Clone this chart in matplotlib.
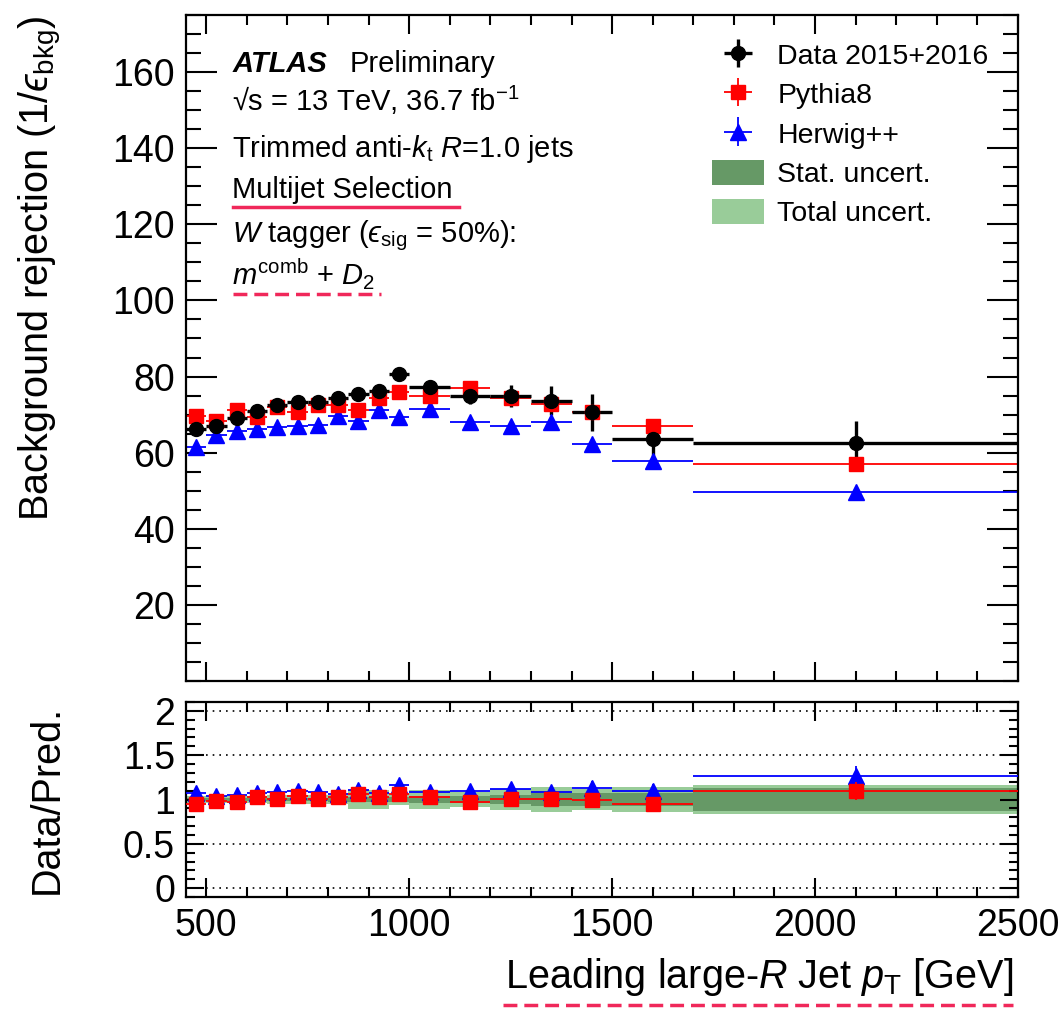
import numpy as np
import matplotlib
matplotlib.use('Agg')
import matplotlib.pyplot as plt
from matplotlib.lines import Line2D
from matplotlib.patches import Patch
from matplotlib.ticker import MultipleLocator, FixedLocator

plt.rcParams['font.family'] = ['Liberation Sans', 'DejaVu Sans']
plt.rcParams['mathtext.fontset'] = 'custom'
plt.rcParams['mathtext.rm'] = 'Liberation Sans'
plt.rcParams['mathtext.it'] = 'Liberation Sans:italic'
plt.rcParams['mathtext.bf'] = 'Liberation Sans:bold'
plt.rcParams['mathtext.fallback'] = 'stixsans'

# bins in leading large-R jet pT [GeV]
bin_lo = [450, 500, 550, 600, 650, 700, 750, 800, 850, 900, 950,
          1000, 1100, 1200, 1300, 1400, 1500, 1700]
bin_hi = [500, 550, 600, 650, 700, 750, 800, 850, 900, 950, 1000,
          1100, 1200, 1300, 1400, 1500, 1700, 2500]

# background rejection 1/eps_bkg
data = [66.3, 67.1, 69.2, 70.9, 72.6, 73.2, 73.2, 74.3, 75.3, 76.1, 80.6,
        77.2, 74.9, 74.8, 73.7, 70.6, 63.5, 62.5]
data_err = [1.0, 1.0, 1.0, 1.0, 1.0, 1.0, 1.0, 1.0, 1.0, 1.2, 1.7,
            1.3, 2.1, 2.9, 3.9, 4.8, 4.5, 5.7]
pythia = [69.7, 68.3, 71.1, 69.3, 72.0, 70.6, 72.4, 72.4, 71.1, 74.4, 75.9,
          74.8, 77.0, 74.4, 72.9, 70.6, 67.0, 57.1]
pythia_err = [0.5, 0.5, 0.5, 0.5, 0.5, 0.5, 0.5, 0.5, 0.5, 0.5, 0.6,
              0.6, 0.7, 0.8, 0.9, 1.0, 1.0, 1.2]
herwig = [61.6, 64.7, 65.8, 66.3, 66.7, 67.0, 67.3, 69.7, 68.3, 71.1, 69.5,
          71.5, 68.0, 66.9, 68.0, 62.3, 57.8, 49.6]
herwig_err = [0.8, 1.0, 0.8, 0.8, 0.8, 0.8, 0.8, 0.8, 0.9, 0.9, 0.9,
              0.9, 1.0, 1.0, 1.1, 1.2, 1.2, 1.3]

# relative uncertainty bands in the ratio panel (half widths)
stat_unc = [0.02, 0.02, 0.02, 0.02, 0.02, 0.02, 0.02, 0.03, 0.03, 0.03, 0.03,
            0.04, 0.04, 0.05, 0.07, 0.07, 0.075, 0.13]
tot_unc = [0.04, 0.04, 0.04, 0.04, 0.05, 0.05, 0.05, 0.05, 0.11, 0.11, 0.06,
           0.11, 0.09, 0.12, 0.14, 0.12, 0.145, 0.16]

lo = np.array(bin_lo, float)
hi = np.array(bin_hi, float)
xc = (lo + hi) / 2
xw = (hi - lo) / 2
d = np.array(data)
de = np.array(data_err)
py = np.array(pythia)
hw = np.array(herwig)

r_py = d / py
r_hw = d / hw
r_py_err = r_py * de / d
r_hw_err = r_hw * de / d

W, H = 1060, 1010
fig = plt.figure(figsize=(W / 100, H / 100), dpi=100)
ax = fig.add_axes([186 / W, 1 - 681 / H, 832 / W, 666 / H])
ax2 = fig.add_axes([186 / W, 1 - 897 / H, 832 / W, 195 / H])

c_stat = '#669966'
c_tot = '#99cc99'

hw_eb = ax.errorbar(xc, hw, xerr=xw, yerr=herwig_err, fmt='^', color='blue',
                    ms=11, elinewidth=1.3, capsize=0, label='Herwig++')
py_eb = ax.errorbar(xc, py, xerr=xw, yerr=pythia_err, fmt='s', color='red',
                    ms=10, elinewidth=1.3, capsize=0, label='Pythia8')
d_eb = ax.errorbar(xc, d, xerr=xw, yerr=de, fmt='o', color='black',
                   ms=10, elinewidth=2.4, capsize=0, label='Data 2015+2016')

ax.set_xlim(450, 2500)
ax.set_ylim(0, 175)
ax.yaxis.set_major_locator(FixedLocator([20, 40, 60, 80, 100, 120, 140, 160]))
ax.yaxis.set_minor_locator(MultipleLocator(5))
ax.xaxis.set_major_locator(MultipleLocator(500))
ax.xaxis.set_minor_locator(MultipleLocator(100))
ax.tick_params(labelbottom=False)
ax.set_ylabel('Background rejection (1/$\u03f5_{\\mathrm{bkg}}$)', fontsize=28.5, loc='top')
ax.yaxis.set_label_coords(-0.147, 1.0)

h_stat = Patch(facecolor=c_stat, edgecolor='none', label='Stat. uncert.')
h_tot = Patch(facecolor=c_tot, edgecolor='none', label='Total uncert.')
ax.legend(handles=[d_eb, py_eb, hw_eb, h_stat, h_tot], loc='upper left',
          bbox_to_anchor=(0.632, 0.96), frameon=False, fontsize=20.5,
          handlelength=1.85, handleheight=1.0, handletextpad=0.45,
          labelspacing=0.38, borderpad=0, borderaxespad=0)

# ratio panel
ax2.bar(lo, 2 * np.array(tot_unc), bottom=1 - np.array(tot_unc), width=hi - lo,
        align='edge', color=c_tot, linewidth=0, zorder=1)
ax2.bar(lo, 2 * np.array(stat_unc), bottom=1 - np.array(stat_unc), width=hi - lo,
        align='edge', color=c_stat, linewidth=0, zorder=1.5)
for yv in [0, 0.5, 1, 1.5, 2]:
    ax2.axhline(yv, color='black', ls=(0, (1, 3)), lw=1.2, zorder=0.5)
ax2.errorbar(xc, r_hw, xerr=xw, yerr=r_hw_err, fmt='^', color='blue',
             ms=11, elinewidth=1.3, capsize=0, zorder=3)
ax2.errorbar(xc, r_py, xerr=xw, yerr=r_py_err, fmt='s', color='red',
             ms=10, elinewidth=1.3, capsize=0, zorder=3.5)
ax2.set_xlim(450, 2500)
ax2.set_ylim(-0.1, 2.1)
ax2.yaxis.set_major_locator(FixedLocator([0, 0.5, 1, 1.5, 2]))
ax2.set_yticklabels(['0', '0.5', '1', '1.5', '2'])
ax2.yaxis.set_minor_locator(MultipleLocator(0.1))
ax2.xaxis.set_major_locator(MultipleLocator(500))
ax2.xaxis.set_minor_locator(MultipleLocator(100))
ax2.set_ylabel('Data/Pred.', fontsize=28.5)
ax2.yaxis.set_label_coords(-0.145, 0.5)
ax2.set_xlabel(r'Leading large-$R$ Jet $p_{\mathrm{T}}$ [GeV]', fontsize=28.5, loc='right')
ax2.xaxis.set_label_coords(0.994, -0.3)

for a, (ml, mn) in zip([ax, ax2], [(22, 11), (13, 6.5)]):
    for s in a.spines.values():
        s.set_linewidth(1.6)
    a.tick_params(which='both', direction='in', top=True, right=True,
                  width=1.5, labelsize=27, pad=8)
    a.tick_params(axis='y', which='major', length=ml)
    a.tick_params(axis='y', which='minor', length=mn)
    a.tick_params(axis='x', which='major', length=14)
    a.tick_params(axis='x', which='minor', length=7)

# text block
def px(x, y):
    return x / W, 1 - y / H

fs = 21
fig.text(*px(233, 72), 'ATLAS', fontsize=fs, fontweight='bold', fontstyle='italic')
fig.text(*px(350, 72), 'Preliminary', fontsize=fs)
fig.text(*px(232, 111), '\u221as = 13 TeV, 36.7 fb$^{-1}$', fontsize=fs)
fig.text(*px(232, 157), r'Trimmed anti-$k_{\mathrm{t}}$ $R$=1.0 jets', fontsize=fs)
fig.text(*px(232, 198), 'Multijet Selection', fontsize=fs)
fig.text(*px(232, 242), '$W$ tagger ($\u03f5_{\\mathrm{sig}}$ = 50%):', fontsize=fs)
fig.text(*px(232, 285), r'$m^{\mathrm{comb}}$ + $D_{2}$', fontsize=fs)

# highlight underlines
hl = '#f0285a'
fig.add_artist(Line2D([233 / W, 459 / W], [1 - 207 / H] * 2, color=hl, lw=2.5))
fig.add_artist(Line2D([233 / W, 381 / W], [1 - 294 / H] * 2, color=hl, lw=2.5,
                      ls=(0, (4, 2))))
fig.add_artist(Line2D([503 / W, 1013 / W], [1 - 1005 / H] * 2, color=hl, lw=2.5,
                      ls=(0, (4, 2))))

fig.savefig('out.png', dpi=100)
